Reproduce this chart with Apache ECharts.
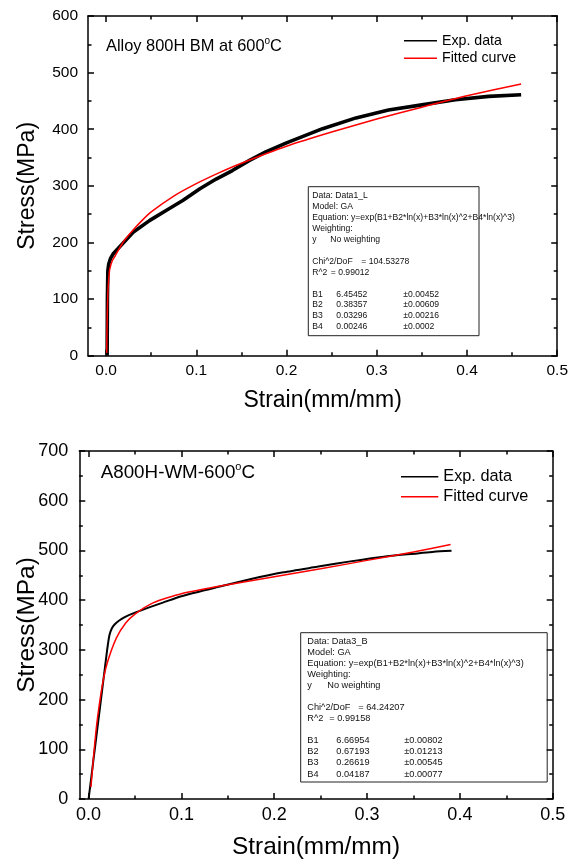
<!DOCTYPE html>
<html>
<head>
<meta charset="utf-8">
<script src="https://cdn.jsdelivr.net/npm/echarts@6/dist/echarts.min.js"></script>
<style>html,body{margin:0;padding:0;background:#fff}#c{width:571px;height:861px}</style>
</head>
<body>
<div id="c"></div>
<script>
// ---------- data ----------
const xMajorTicks = [0, 0.1, 0.2, 0.3, 0.4, 0.5];
const xMinorTicks = [0.05, 0.15, 0.25, 0.35, 0.45];

// Top panel: Alloy 800H BM at 600°C
const topExpStrain = [0.0012, 0.0015, 0.002, 0.003, 0.005, 0.008, 0.0154, 0.03, 0.0485, 0.067, 0.085, 0.104, 0.122, 0.14, 0.159, 0.177, 0.2, 0.24, 0.277, 0.313, 0.35, 0.387, 0.424, 0.46];
const topExpStress = [0, 100, 150, 162, 172, 180, 193, 218, 239, 257, 274, 295, 312, 327, 345, 360, 376, 401, 420, 434, 443, 452, 458, 461];
const topFitStrain = [0.0007, 0.0012, 0.0018, 0.0026, 0.004, 0.007, 0.01, 0.015, 0.02, 0.03, 0.04, 0.05, 0.075, 0.1, 0.125, 0.15, 0.2, 0.25, 0.3, 0.35, 0.4, 0.46];
const topFitStress = [5, 60, 100, 127, 152, 168, 176, 190, 203, 222, 239, 254, 282, 304, 323, 340, 370, 395, 418, 439, 459, 480];

// Bottom panel: A800H-WM-600°C
const botExpStrain = [0.0, 0.005, 0.01, 0.015, 0.02, 0.0225, 0.025, 0.028, 0.033, 0.04, 0.05, 0.066, 0.08, 0.1, 0.138, 0.174, 0.21, 0.246, 0.282, 0.318, 0.354, 0.372, 0.391];
const botExpStress = [0, 75, 150, 225, 300, 330, 343, 351, 359, 367, 375, 386, 395, 408, 426, 442, 456, 467, 478, 487.5, 494, 497.5, 499.5];
const botFitStrain = [0.0025, 0.003, 0.004, 0.005, 0.0075, 0.01, 0.015, 0.02, 0.03, 0.04, 0.05, 0.07, 0.1, 0.15, 0.2, 0.25, 0.3, 0.35, 0.39];
const botFitStress = [24, 34, 56, 78, 128, 169, 231, 273, 324, 354, 372, 395, 413, 431, 447, 463, 480, 497, 512];

const legendNames = ['Exp. data', 'Fitted curve'];

const topReport = [
  ['Data: Data1_L'], ['Model: GA'], ['Equation: y=exp(B1+B2*ln(x)+B3*ln(x)^2+B4*ln(x)^3)'], ['Weighting:'],
  ['y', 'No weighting'], [''], ['Chi^2/DoF', '= 104.53278'], ['R^2', '= 0.99012'], [''],
  ['B1', '6.45452', '\u00b10.00452'], ['B2', '0.38357', '\u00b10.00609'], ['B3', '0.03296', '\u00b10.00216'], ['B4', '0.00246', '\u00b10.0002']
];
const botReport = [
  ['Data: Data3_B'], ['Model: GA'], ['Equation: y=exp(B1+B2*ln(x)+B3*ln(x)^2+B4*ln(x)^3)'], ['Weighting:'],
  ['y', 'No weighting'], [''], ['Chi^2/DoF', '= 64.24207'], ['R^2', '= 0.99158'], [''],
  ['B1', '6.66954', '\u00b10.00802'], ['B2', '0.67193', '\u00b10.01213'], ['B3', '0.26619', '\u00b10.00545'], ['B4', '0.04187', '\u00b10.00077']
];

// ---------- chart ----------
const FONT = '"Liberation Sans", Arial, sans-serif';
const pairs = (xs, ys) => xs.map((x, i) => [x, ys[i]]);
const AX = {color: '#000', width: 1.5};

function xAxesFor(g, min, labelSize, nameGap, nameSize) {
  const base = {type: 'value', gridIndex: g, min: min, max: 0.5, splitLine: {show: false}};
  return [
    Object.assign({}, base, {
      position: 'bottom',
      axisLine: {show: true, onZero: false, lineStyle: AX},
      axisTick: {show: true, inside: true, length: 6, customValues: xMajorTicks, lineStyle: AX},
      axisLabel: {show: true, customValues: xMajorTicks, formatter: v => v.toFixed(1), color: '#000', fontSize: labelSize, fontFamily: FONT, margin: 7},
      name: 'Strain(mm/mm)', nameLocation: 'middle', nameGap: nameGap, nameMoveOverlap: false,
      nameTextStyle: {fontSize: nameSize, color: '#000', fontFamily: FONT}
    }),
    Object.assign({}, base, {
      position: 'bottom',
      axisLine: {show: false, onZero: false},
      axisTick: {show: true, inside: true, length: 3.5, customValues: xMinorTicks, lineStyle: AX},
      axisLabel: {show: false}
    }),
    Object.assign({}, base, {
      position: 'top',
      axisLine: {show: true, onZero: false, lineStyle: AX},
      axisTick: {show: true, inside: true, length: 6, customValues: xMajorTicks, lineStyle: AX},
      axisLabel: {show: false}
    }),
    Object.assign({}, base, {
      position: 'top',
      axisLine: {show: false, onZero: false},
      axisTick: {show: true, inside: true, length: 3.5, customValues: xMinorTicks, lineStyle: AX},
      axisLabel: {show: false}
    })
  ];
}

function yAxesFor(g, max, labelSize, margin, nameGap, nameSize) {
  const base = {
    type: 'value', gridIndex: g, min: 0, max: max, interval: 100,
    splitLine: {show: false}, minorSplitLine: {show: false},
    axisLine: {show: true, onZero: false, lineStyle: AX},
    axisTick: {show: true, inside: true, length: 6, lineStyle: AX},
    minorTick: {show: true, splitNumber: 2, length: 3.5, lineStyle: AX}
  };
  return [
    Object.assign({}, base, {
      position: 'left',
      axisLabel: {show: true, color: '#000', fontSize: labelSize, fontFamily: FONT, margin: margin},
      name: 'Stress(MPa)', nameLocation: 'middle', nameGap: nameGap, nameMoveOverlap: false,
      nameTextStyle: {fontSize: nameSize, color: '#000', fontFamily: FONT}
    }),
    Object.assign({}, base, {position: 'right', axisLabel: {show: false}})
  ];
}

function reportBox(x, y, w, h) {
  return [{
    type: 'rect', shape: {x: x, y: y, width: w, height: h},
    style: {fill: '#fff', stroke: '#222', lineWidth: 1}
  }];
}
function reportTexts(rows, tx, ty, fs, lh, cols) {
  const out = [];
  rows.forEach((row, r) => {
    row.forEach((t, c) => {
      if (!t) return;
      let off = 0;
      if (c > 0 && row.length === 2) off = (r === 6 ? cols.chi : (r === 7 ? cols.r2 : cols.nw));
      if (c > 0 && row.length === 3) off = c === 1 ? cols.val : cols.pm;
      out.push({
        type: 'text', x: tx + off, y: ty + r * lh,
        style: {text: t, fill: '#111', fontSize: fs, fontFamily: FONT, verticalAlign: 'middle', align: 'left'}
      });
    });
  });
  return out;
}

function titleGraphic(x, y, main, fs) {
  return {
    type: 'text', x: x, y: y,
    style: {
      text: '{a|' + main + '}{s|o}{a|C}',
      verticalAlign: 'middle', align: 'left',
      rich: {
        a: {fontSize: fs, fontFamily: FONT, fill: '#000', lineHeight: fs + 4},
        s: {fontSize: Math.round(fs * 0.6), fontFamily: FONT, fill: '#000', lineHeight: Math.round(fs * 0.6), verticalAlign: 'top'}
      }
    }
  };
}

const graphics = [].concat(
  reportBox(308.3, 186.7, 170.7, 149),
  reportTexts(topReport, 312.3, 195.5, 8.6, 10.96, {nw: 18, chi: 49, r2: 18.5, val: 24, pm: 91}),
  reportBox(300.7, 632.7, 246.5, 149.3),
  reportTexts(botReport, 307.3, 641.5, 9.2, 11.04, {nw: 20, chi: 51, r2: 22, val: 29, pm: 97}),
  [titleGraphic(106, 46.7, 'Alloy 800H BM at 600', 16.4), titleGraphic(100.7, 473.3, 'A800H-WM-600', 18.8)]
);

const option = {
  backgroundColor: '#fff',
  animation: false,
  grid: [
    {left: 88, top: 16, width: 471, height: 339.7, containLabel: false},
    {left: 79.3, top: 451, width: 473.4, height: 348, containLabel: false}
  ],
  xAxis: [].concat(xAxesFor(0, -0.02, 15.5, 33, 23), xAxesFor(1, -0.01, 18, 36, 24.4)),
  yAxis: [].concat(yAxesFor(0, 600, 15.5, 10, 49, 23), yAxesFor(1, 700, 18, 11, 40, 24.4)),
  legend: [
    {left: 399, top: 26.9, orient: 'vertical', itemWidth: 33, itemHeight: 1.5, itemGap: 0, icon: 'rect',
     selectedMode: false, data: legendNames,
     textStyle: {fontSize: 14.2, lineHeight: 17.6, color: '#000', fontFamily: FONT}},
    {left: 396, top: 461.7, orient: 'vertical', itemWidth: 37.3, itemHeight: 1.5, itemGap: 0, icon: 'rect',
     selectedMode: false, data: legendNames,
     textStyle: {fontSize: 16.3, lineHeight: 20, color: '#000', fontFamily: FONT}}
  ],
  series: [
    {name: legendNames[0], type: 'line', xAxisIndex: 0, yAxisIndex: 0, data: pairs(topExpStrain, topExpStress),
     showSymbol: false, symbol: 'none', color: '#000', lineStyle: {color: '#000', width: 3.6}, z: 2},
    {name: legendNames[1], type: 'line', xAxisIndex: 0, yAxisIndex: 0, data: pairs(topFitStrain, topFitStress),
     showSymbol: false, symbol: 'none', smooth: 0.2, color: '#ff0000', lineStyle: {color: '#ff0000', width: 1.5}, z: 3},
    {name: legendNames[0], type: 'line', xAxisIndex: 4, yAxisIndex: 2, data: pairs(botExpStrain, botExpStress),
     showSymbol: false, symbol: 'none', smooth: 0.2, color: '#000', lineStyle: {color: '#000', width: 2}, z: 2},
    {name: legendNames[1], type: 'line', xAxisIndex: 4, yAxisIndex: 2, data: pairs(botFitStrain, botFitStress),
     showSymbol: false, symbol: 'none', smooth: 0.2, color: '#ff0000', lineStyle: {color: '#ff0000', width: 1.5}, z: 3}
  ],
  graphic: {elements: graphics}
};

const chart = echarts.init(document.getElementById('c'), null, {renderer: 'canvas'});
chart.setOption(option);
</script>
</body>
</html>
